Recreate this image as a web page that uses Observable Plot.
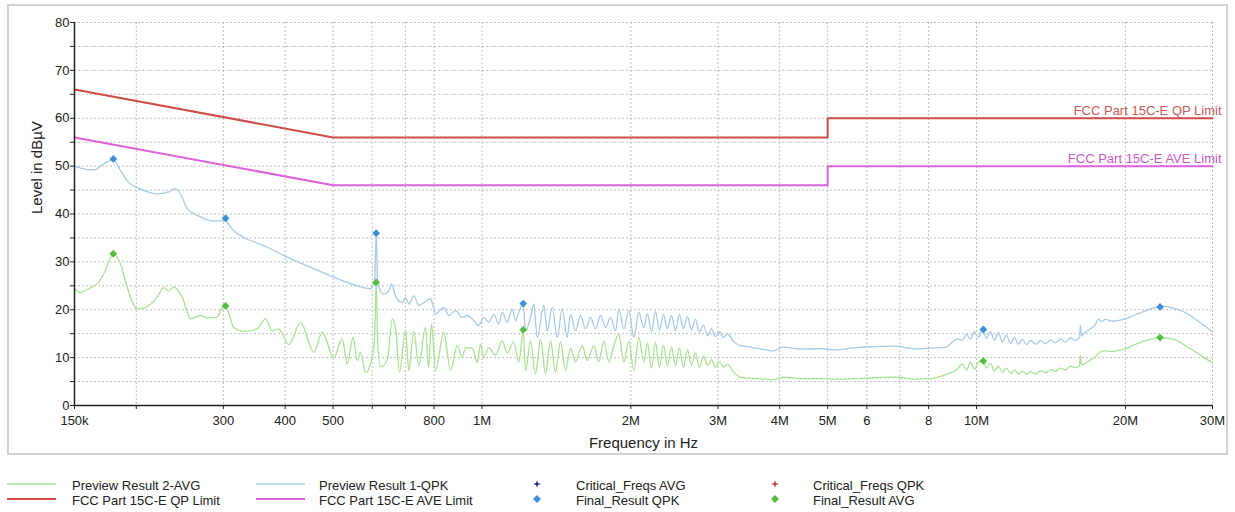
<!DOCTYPE html>
<html>
<head>
<meta charset="utf-8">
<script src="https://cdn.jsdelivr.net/npm/d3@7"></script>
<script src="https://cdn.jsdelivr.net/npm/@observablehq/plot@0.6"></script>
<style>
  body { margin: 0; background: #fff; font-family: "Liberation Sans", Arial, sans-serif; }
  #wrap { position: relative; width: 1235px; height: 512px; overflow: hidden; }
  #frame { position: absolute; left: 7px; top: 4px; width: 1221px; height: 451px; box-sizing: border-box; border: 2px solid #d2d2d2; pointer-events: none; }
  #legend { position: absolute; left: 0; top: 460px; width: 1235px; height: 52px; }
  .lg-text { position: absolute; font-size: 13px; line-height: 15px; color: #222; white-space: nowrap; }
  .lg-swatch { position: absolute; overflow: visible; }
</style>
</head>
<body>
<div id="wrap">
  <div id="chart"></div>
  <div id="frame"></div>
  <div id="legend"></div>
</div>
<script>
// Frequencies in MHz, levels in dBµV.

// Axis ticks
const xTicks = [0.15, 0.2, 0.3, 0.4, 0.5, 0.6, 0.7, 0.8, 1, 2, 3, 4, 5, 6, 7, 8, 10, 20, 30];
const xTickLabels = ["150k", "", "300", "400", "500", "", "", "800", "1M", "2M", "3M", "4M", "5M", "6", "", "8", "10M", "20M", "30M"];
const yTicks = [0, 5, 10, 15, 20, 25, 30, 35, 40, 45, 50, 55, 60, 65, 70, 75, 80];
const xTitle = "Frequency in Hz";
const yTitle = "Level in dBµV";

// FCC Part 15C-E conducted limits
const limitFreq = [0.15, 0.5, 5, 5, 30];
const qpLimit = [66, 56, 56, 60, 60];
const aveLimit = [56, 46, 46, 50, 50];
const limitLabels = ["FCC Part 15C-E QP Limit", "FCC Part 15C-E AVE Limit"];

// Final measurement results
const finalFreq = [0.1797, 0.303, 0.611, 1.212, 10.32, 23.5];
const finalQpk = [51.5, 39.1, 36.0, 21.3, 15.9, 20.6];
const finalAvg = [31.7, 20.8, 25.7, 15.8, 9.3, 14.2];

// Preview Result 1-QPK sweep [MHz, dBµV]
const previewQpk = [
  [0.150, 50.0], [0.1543, 49.6], [0.1641, 49.2], [0.1719, 50.5], [0.1797, 51.3], [0.1858, 49.1],
  [0.1931, 46.6], [0.2008, 45.5], [0.2088, 44.8], [0.2205, 44.2], [0.2327, 44.6], [0.2401, 45.3],
  [0.2457, 44.2], [0.2535, 41.1], [0.2656, 39.7], [0.2869, 38.5], [0.3005, 38.6], [0.3030, 39.0],
  [0.3054, 38.3], [0.3149, 36.5], [0.3299, 35.1], [0.3621, 33.4], [0.4038, 31.0], [0.4501, 28.9],
  [0.5017, 26.8], [0.5594, 25.0], [0.5952, 24.4], [0.6064, 26.0], [0.6112, 36.0], [0.6149, 26.0],
  [0.6186, 24.7], [0.6332, 23.3], [0.6481, 24.0], [0.6563, 25.4], [0.6687, 22.9], [0.6898, 21.5],
  [0.7005, 22.6], [0.7114, 21.2], [0.7281, 22.9], [0.7453, 20.9], [0.7629, 21.5], [0.7869, 22.3],
  [0.8055, 19.1], [0.8373, 20.5], [0.8570, 18.8], [0.8841, 19.8], [0.9121, 18.4], [0.9336, 18.8],
  [0.9556, 18.1], [0.9854, 16.7], [1.0086, 18.4], [1.0324, 17.4], [1.0567, 19.1], [1.0816, 17.0],
  [1.0989, 19.5], [1.1248, 17.4], [1.1512, 20.2], [1.1691, 17.7], [1.1872, 19.5], [1.2118, 21.2],
  [1.2248, 15.6], [1.2536, 18.4], [1.2730, 21.2], [1.2933, 14.2], [1.3338, 20.9], [1.3550, 15.6],
  [1.3869, 20.5], [1.4196, 14.2], [1.4529, 20.2], [1.4872, 14.2], [1.5102, 19.1], [1.5459, 15.6],
  [1.5822, 18.8], [1.6195, 16.0], [1.6577, 18.4], [1.6968, 16.0], [1.7367, 18.8], [1.7776, 16.3],
  [1.8195, 18.4], [1.8624, 15.6], [1.8913, 20.2], [1.9359, 16.0], [1.9814, 19.8], [2.0280, 14.2],
  [2.0757, 19.5], [2.1246, 16.3], [2.161, 19.2], [2.2016, 15.4], [2.2428, 19.6], [2.2850, 15.8],
  [2.3279, 19.0], [2.3716, 16.0], [2.4162, 18.8], [2.4617, 15.6], [2.5079, 19.0], [2.5550, 16.0],
  [2.6031, 18.6], [2.6519, 15.8], [2.7017, 18.0], [2.7526, 15.4], [2.8043, 16.8], [2.8569, 14.6],
  [2.9106, 16.0], [2.9653, 14.4], [3.021, 15.4], [3.078, 14.2], [3.136, 15.0], [3.225, 13.4],
  [3.331, 12.5], [3.490, 12.2], [3.656, 11.8], [3.885, 11.4], [4.070, 12.2], [4.303, 11.9],
  [4.551, 11.8], [4.835, 11.9], [5.185, 11.6], [5.69, 12.1], [6.246, 12.3], [6.856, 12.4],
  [7.525, 11.8], [8.069, 12.0], [8.652, 12.2], [8.938, 13.2], [9.149, 13.9], [9.364, 13.6],
  [9.541, 14.9], [9.720, 13.8], [9.903, 15.4], [10.089, 14.2], [10.30, 16.0], [10.47, 14.0],
  [10.67, 15.5], [10.87, 13.6], [11.07, 15.2], [11.28, 13.3], [11.49, 14.7], [11.71, 13.0],
  [11.93, 14.2], [12.15, 12.8], [12.38, 13.8], [12.62, 12.7], [12.85, 13.6], [13.16, 12.8],
  [13.47, 13.6], [13.78, 12.9], [14.11, 13.7], [14.44, 13.1], [14.78, 13.9], [15.13, 13.3],
  [15.48, 14.1], [15.85, 13.6], [16.15, 14.3], [16.22, 16.8], [16.30, 14.5], [16.60, 15.3],
  [16.99, 16.0], [17.39, 16.9], [17.64, 18.1], [17.89, 17.5], [18.22, 18.0], [18.80, 17.6],
  [19.36, 17.8], [20.00, 18.1], [20.76, 18.8], [21.62, 19.5], [22.47, 20.2], [23.32, 20.6],
  [24.09, 20.7], [24.86, 20.4], [25.60, 20.0], [26.45, 19.4], [27.32, 18.5], [28.10, 17.6],
  [29.03, 16.5], [30.00, 15.4]
];

// Preview Result 2-AVG sweep [MHz, dBµV]
const previewAvg = [
  [0.150, 24.4], [0.1543, 23.6], [0.1616, 24.6], [0.1667, 25.4], [0.1725, 27.8], [0.1797, 31.6],
  [0.1858, 29.6], [0.1917, 24.7], [0.2008, 20.2], [0.2071, 20.4], [0.2205, 22.6], [0.2273, 24.6],
  [0.2327, 23.9], [0.2382, 24.7], [0.2477, 22.6], [0.2574, 18.1], [0.2697, 18.8], [0.2783, 18.3],
  [0.2915, 18.4], [0.2960, 19.8], [0.3030, 20.8], [0.3149, 16.3], [0.3299, 15.5], [0.3512, 16.0],
  [0.3650, 18.1], [0.3766, 15.6], [0.3883, 16.0], [0.4068, 12.7], [0.4296, 17.4], [0.4571, 11.1],
  [0.4753, 15.3], [0.5017, 10.0], [0.5217, 13.9], [0.5340, 8.7], [0.5491, 14.2], [0.5594, 9.4],
  [0.5680, 11.1], [0.5814, 6.9], [0.5952, 8.7], [0.6064, 14.0], [0.6112, 25.6], [0.6149, 14.0],
  [0.6235, 8.1], [0.6433, 9.4], [0.6585, 18.1], [0.6687, 16.3], [0.6812, 7.0], [0.7005, 15.8],
  [0.7114, 7.3], [0.7281, 15.4], [0.7453, 8.3], [0.7688, 16.3], [0.7796, 8.0], [0.7906, 17.0],
  [0.8055, 7.3], [0.8373, 15.3], [0.8638, 7.3], [0.8912, 12.5], [0.9121, 10.0], [0.9262, 12.1],
  [0.9556, 12.0], [0.9781, 9.0], [0.9932, 12.8], [1.0086, 10.0], [1.0324, 12.1], [1.0652, 10.5],
  [1.0989, 13.5], [1.1248, 11.0], [1.1598, 13.3], [1.1872, 9.1], [1.2118, 15.7], [1.2248, 7.3],
  [1.2536, 13.5], [1.2832, 6.6], [1.3134, 13.9], [1.3443, 6.6], [1.3760, 13.5], [1.4083, 7.0],
  [1.4415, 13.3], [1.4755, 7.3], [1.5102, 12.0], [1.5459, 9.1], [1.5948, 12.5], [1.6323, 9.4],
  [1.6833, 12.5], [1.7229, 9.1], [1.7634, 13.5], [1.8050, 9.1], [1.8475, 12.5], [1.8913, 14.9],
  [1.9359, 9.1], [1.9814, 13.5], [2.0280, 7.3], [2.0757, 14.2], [2.1246, 9.1], [2.161, 13.0],
  [2.2016, 7.8], [2.2428, 13.2], [2.2850, 8.0], [2.3279, 12.6], [2.3716, 8.2], [2.4162, 12.2],
  [2.4617, 8.4], [2.5079, 12.0], [2.5550, 8.0], [2.6031, 11.6], [2.6519, 8.4], [2.7017, 11.0],
  [2.7526, 8.0], [2.8043, 10.4], [2.8569, 8.4], [2.9106, 9.6], [2.9653, 8.0], [3.021, 9.2],
  [3.078, 8.0], [3.136, 8.6], [3.225, 7.0], [3.331, 5.9], [3.490, 5.7], [3.656, 5.6],
  [3.885, 5.4], [4.070, 5.9], [4.303, 5.7], [4.551, 5.6], [4.835, 5.6], [5.185, 5.5],
  [5.69, 5.6], [6.246, 5.8], [6.856, 5.9], [7.525, 5.5], [8.069, 5.6], [8.532, 6.2],
  [8.856, 6.8], [9.149, 7.6], [9.364, 8.7], [9.541, 7.4], [9.720, 9.0], [9.903, 7.6],
  [10.089, 9.0], [10.30, 9.4], [10.47, 7.8], [10.67, 8.8], [10.87, 7.2], [11.07, 8.2],
  [11.28, 6.9], [11.49, 7.8], [11.71, 6.7], [11.93, 7.4], [12.15, 6.6], [12.38, 7.2],
  [12.62, 6.5], [12.85, 7.1], [13.16, 6.6], [13.47, 7.3], [13.78, 6.8], [14.11, 7.5],
  [14.44, 7.1], [14.78, 7.8], [15.13, 7.4], [15.48, 8.2], [15.85, 7.9], [16.15, 8.3],
  [16.22, 10.4], [16.30, 8.4], [16.60, 8.8], [16.99, 9.5], [17.39, 10.2], [17.80, 11.2],
  [18.22, 11.4], [18.80, 11.3], [19.36, 11.5], [20.00, 11.8], [20.76, 12.6], [21.62, 13.3],
  [22.47, 13.8], [23.32, 14.1], [24.09, 14.1], [24.86, 13.9], [25.60, 13.4], [26.45, 12.5],
  [27.32, 11.6], [28.10, 10.8], [29.03, 9.8], [30.00, 9.0]
];

// Legend entries, laid out four per row
const legendLabels = [
  "Preview Result 2-AVG", "Preview Result 1-QPK", "Critical_Freqs AVG", "Critical_Freqs QPK",
  "FCC Part 15C-E QP Limit", "FCC Part 15C-E AVE Limit", "Final_Result QPK", "Final_Result AVG"
];

const colors = {
  avgTrace: "#a8e393",
  qpkTrace: "#a6cbe6",
  qpLimit: "#cf4c48",
  aveLimit: "#de62de",
  qpLabel: "#c85a58",
  aveLabel: "#c85ac8",
  finalQpk: "#3c8fd6",
  finalAvg: "#55bd3e",
  critAvg: "#27367f",
  critQpk: "#c8393a"
};
const legendKinds = ["line", "line", "star", "star", "line", "line", "diamond", "diamond"];
const legendColors = [colors.avgTrace, colors.qpkTrace, colors.critAvg, colors.critQpk,
                      colors.qpLimit, colors.aveLimit, colors.finalQpk, colors.finalAvg];

const xLabelByValue = new Map(xTicks.map((v, i) => [v, xTickLabels[i]]));
const gridStyle = {stroke: "#bdbdbd", strokeOpacity: 1, strokeDasharray: "2,2", strokeWidth: 1};

const chart = Plot.plot({
  width: 1235,
  height: 460,
  marginLeft: 74,
  marginRight: 23,
  marginTop: 22,
  marginBottom: 55,
  style: {fontFamily: "'Liberation Sans', Arial, sans-serif", fontSize: "13px", color: "#333", background: "transparent"},
  x: {type: "log", domain: [0.15, 30]},
  y: {domain: [0, 80]},
  marks: [
    Plot.gridX(xTicks, {...gridStyle}),
    Plot.gridY(yTicks, {...gridStyle}),
    Plot.line(limitFreq, {x: d => d, y: qpLimit, stroke: colors.qpLimit, strokeWidth: 2}),
    Plot.line(limitFreq, {x: d => d, y: aveLimit, stroke: colors.aveLimit, strokeWidth: 2}),
    Plot.text([limitLabels[0]], {x: [limitFreq[4]], y: [qpLimit[4]], text: d => d, textAnchor: "end", dx: 9, dy: -7, fill: colors.qpLabel, fontSize: 13}),
    Plot.text([limitLabels[1]], {x: [limitFreq[4]], y: [aveLimit[4]], text: d => d, textAnchor: "end", dx: 9, dy: -7, fill: colors.aveLabel, fontSize: 13}),
    Plot.line(previewAvg, {x: d => d[0], y: d => d[1], stroke: colors.avgTrace, strokeWidth: 1.3, curve: "monotone-x"}),
    Plot.line(previewQpk, {x: d => d[0], y: d => d[1], stroke: colors.qpkTrace, strokeWidth: 1.3, curve: "monotone-x"}),
    Plot.dot(finalFreq, {x: d => d, y: finalAvg, symbol: "diamond2", r: 3.5, fill: colors.finalAvg, stroke: "none"}),
    Plot.dot(finalFreq, {x: d => d, y: finalQpk, symbol: "diamond2", r: 3.5, fill: colors.finalQpk, stroke: "none"}),
    Plot.ruleY([0], {stroke: "#222", strokeWidth: 1.5}),
    Plot.ruleX([0.15], {stroke: "#222", strokeWidth: 1.5}),
    // tick marks only; the labels are drawn as text so every listed label is kept
    Plot.axisX(xTicks, {tickFormat: () => "", tickSize: 4, label: null, color: "#222"}),
    Plot.text(xTicks, {x: d => d, text: d => xLabelByValue.get(d), frameAnchor: "bottom", dy: 10, lineAnchor: "top", fill: "#222", fontSize: 13}),
    Plot.axisY(yTicks, {tickFormat: d => (d % 10 === 0 ? String(d) : ""), tickSize: 4, tickPadding: 1, label: null, color: "#222", fontSize: 13}),
    Plot.text([xTitle], {frameAnchor: "bottom", dy: 42, text: d => d, fontSize: 15, fill: "#222"}),
    Plot.text([yTitle], {frameAnchor: "left", dx: -37, text: d => d, rotate: -90, fontSize: 15, fill: "#222"})
  ]
});
document.getElementById("chart").appendChild(chart);

// Legend below the chart
const legend = document.getElementById("legend");
const swatchLeft = [7, 256];
const markerCenter = [537, 775];
const textLeft = [72, 319, 576, 813];
const rowCenter = [26, 41];
const svgNS = "http://www.w3.org/2000/svg";

legendLabels.forEach((label, i) => {
  const col = i % 4, row = Math.floor(i / 4);
  const kind = legendKinds[i], color = legendColors[i];
  const svg = document.createElementNS(svgNS, "svg");
  svg.setAttribute("class", "lg-swatch");
  if (kind === "line") {
    svg.setAttribute("width", 50);
    svg.setAttribute("height", 6);
    svg.style.left = swatchLeft[col] + "px";
    svg.style.top = (rowCenter[row] - 5) + "px";
    const ln = document.createElementNS(svgNS, "line");
    ln.setAttribute("x1", 0); ln.setAttribute("x2", 49);
    ln.setAttribute("y1", 3); ln.setAttribute("y2", 3);
    ln.setAttribute("stroke", color);
    ln.setAttribute("stroke-width", row === 0 ? 1.5 : 2);
    svg.appendChild(ln);
  } else {
    svg.setAttribute("width", 12);
    svg.setAttribute("height", 12);
    svg.style.left = (markerCenter[col - 2] - 6) + "px";
    svg.style.top = (rowCenter[row] - 8) + "px";
    const p = document.createElementNS(svgNS, "path");
    p.setAttribute("transform", "translate(6,6)");
    p.setAttribute("d", kind === "star"
      ? "M0,-3.8L1,-1L3.8,0L1,1L0,3.8L-1,1L-3.8,0L-1,-1Z"
      : "M0,-4L4,0L0,4L-4,0Z");
    p.setAttribute("fill", color);
    svg.appendChild(p);
  }
  legend.appendChild(svg);
  const t = document.createElement("div");
  t.className = "lg-text";
  t.textContent = label;
  t.style.left = textLeft[col] + "px";
  t.style.top = (rowCenter[row] - 8) + "px";
  legend.appendChild(t);
});
</script>
</body>
</html>
